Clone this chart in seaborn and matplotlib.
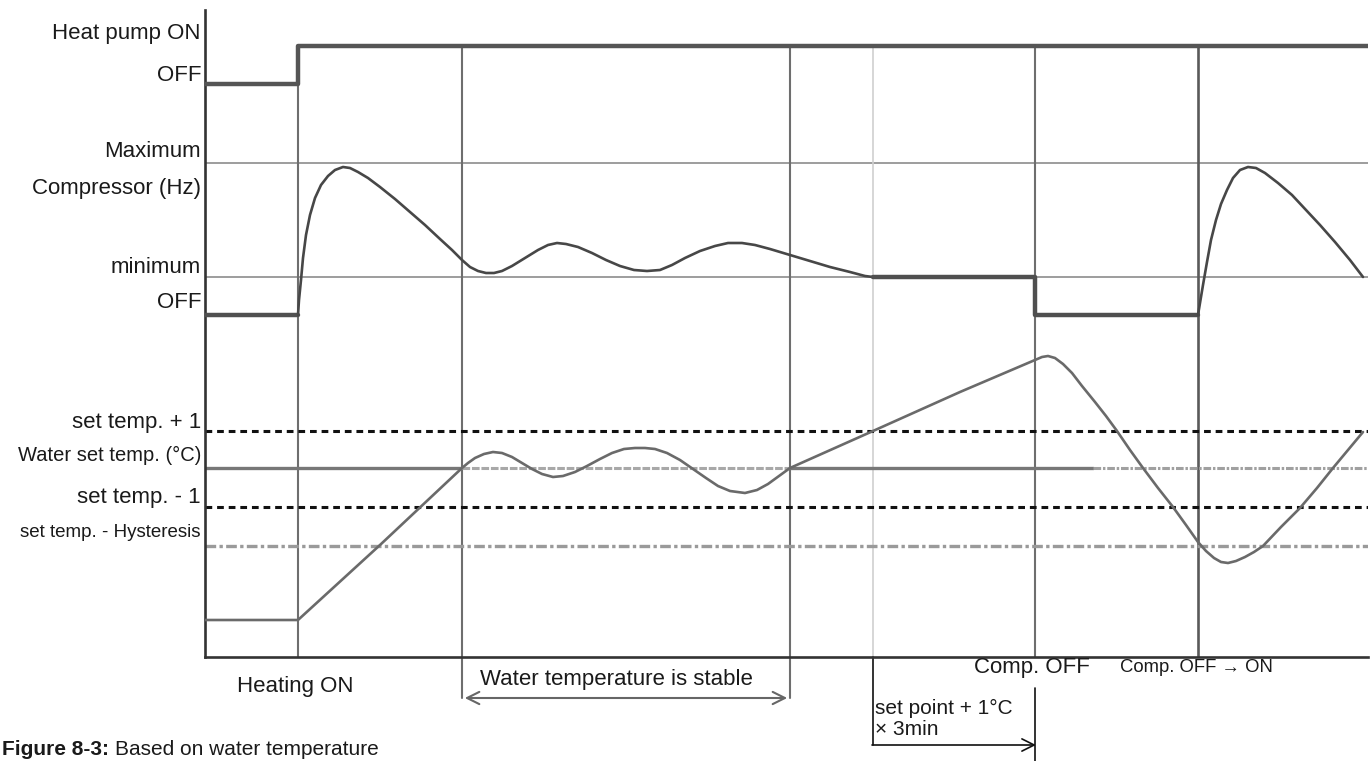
import matplotlib.pyplot as plt
import numpy as np
import pandas as pd
import seaborn as sns

# all values (time along x, signal level along y)
heat_t = [205, 298, 298, 1368]
heat_v = [84, 84, 46, 46]

comp_off_t = [205, 298]
comp_off_v = [315, 315]

comp_t = [298, 299, 301, 303, 306, 310, 315, 321, 328, 335, 343, 350, 358, 368,
          380, 395, 410, 425, 440, 452, 462, 470, 478, 486, 494, 502, 512, 525,
          538, 548, 557, 566, 578, 592, 606, 620, 634, 647, 660, 672, 685, 700,
          715, 728, 742, 755, 770, 790, 810, 830, 850, 865, 873]
comp_v = [315, 300, 280, 258, 235, 215, 198, 185, 176, 170, 167, 168, 172, 178,
          187, 199, 212, 225, 239, 250, 260, 267, 271, 273, 273, 271, 266, 258,
          250, 245, 243, 244, 247, 253, 260, 266, 270, 271, 270, 265, 258, 251,
          246, 243, 243, 245, 249, 255, 261, 267, 272, 276, 277]

comp_step_t = [873, 1035, 1035, 1198]
comp_step_v = [277, 277, 315, 315]

comp2_t = [1198, 1200, 1203, 1207, 1211, 1216, 1221, 1227, 1233, 1240, 1248,
           1256, 1265, 1278, 1292, 1306, 1320, 1335, 1350, 1363]
comp2_v = [315, 303, 285, 262, 240, 220, 204, 190, 178, 170, 167,
           168, 173, 183, 195, 210, 225, 242, 260, 277]

water_t = [205, 298, 380, 462, 468, 475, 484, 493, 502, 512, 522, 532, 542, 553,
           563, 575, 587, 600, 612, 624, 635, 645, 655, 667, 680, 693, 706, 718,
           730, 745, 757, 768, 779, 790, 873, 960, 1035, 1042, 1048, 1055, 1063,
           1072, 1082, 1095, 1106, 1117, 1130, 1143, 1158, 1173, 1186, 1198, 1206,
           1214, 1221, 1228, 1236, 1245, 1254, 1263, 1281, 1300, 1317, 1333, 1348,
           1363]
water_v = [620, 620, 545, 468, 463, 458, 454, 452, 453, 457, 463, 469, 474, 477,
           476, 472, 466, 459, 453, 449, 448, 448, 449, 453, 460, 469, 478, 486,
           491, 493, 490, 484, 476, 468, 431, 392, 360, 357, 356, 358, 364,
           373, 386, 402, 416, 431, 450, 468, 488, 507, 525, 542, 551,
           558, 562, 563, 561, 557, 552, 546, 527, 508, 488, 468, 450,
           432]

level_max = 163
level_min = 277
set_plus = 431
set_temp = 468
set_minus = 507
hyst = 546

left_labels = ["Heat pump ON", "OFF", "Maximum", "Compressor (Hz)", "minimum", "OFF",
               "set temp. + 1", "Water set temp. (°C)", "set temp. - 1",
               "set temp. - Hysteresis"]
left_label_y = [33, 75, 151, 188, 267, 302, 422, 455, 497, 532]
left_label_size = [16, 16, 16, 16, 16, 16, 16, 14.5, 16, 13.5]

sns.set_theme(style="white")
plt.rcParams['font.family'] = ['Liberation Sans', 'DejaVu Sans']

fig = plt.figure(figsize=(13.72, 7.61), dpi=100)
ax = fig.add_axes([205 / 1372, 104 / 761, 1163 / 1372, 647 / 761])
ax.set_xlim(205, 1368)
ax.set_ylim(657, 10)
ax.set_xticks([])
ax.set_yticks([])
for s in ["top", "right"]:
    ax.spines[s].set_visible(False)
for s in ["left", "bottom"]:
    ax.spines[s].set_color("#333333")
    ax.spines[s].set_linewidth(1.9)

# thin reference lines
for lv in [level_max, level_min]:
    ax.plot([205, 1368], [lv, lv], color="#8c8c8c", lw=1.2, zorder=1)

# event verticals
ax.plot([298, 298], [84, 657], color="#6e6e6e", lw=1.5, zorder=1)
ax.plot([462, 462], [46, 698], color="#6e6e6e", lw=1.5, zorder=1, clip_on=False)
ax.plot([790, 790], [46, 698], color="#6e6e6e", lw=1.5, zorder=1, clip_on=False)
ax.plot([873, 873], [46, 657], color="#d0d0d0", lw=1.2, zorder=1)
ax.plot([1035, 1035], [46, 657], color="#6e6e6e", lw=1.5, zorder=1)
ax.plot([1035, 1035], [688, 761], color="#111111", lw=1.2, zorder=1, clip_on=False)
ax.plot([1198, 1198], [46, 657], color="#5a5a5a", lw=1.9, zorder=1)

# temperature levels
ax.plot([205, 1368], [set_plus, set_plus], color="#111111", lw=2.2,
        dashes=(2.2, 1.6), zorder=2)
ax.plot([205, 1368], [set_minus, set_minus], color="#111111", lw=2.2,
        dashes=(2.2, 1.6), zorder=2)
ax.plot([205, 1368], [hyst, hyst], color="#9a9a9a", lw=2.4,
        dashes=(3.2, 1.0, 1.0, 1.0), zorder=2)
ax.plot([205, 462], [set_temp, set_temp], color="#777777", lw=2.4, zorder=2)
ax.plot([462, 790], [set_temp, set_temp], color="#a8a8a8", lw=2.2,
        dashes=(2.5, 0.6), zorder=2)
ax.plot([790, 1093], [set_temp, set_temp], color="#777777", lw=2.4, zorder=2)
ax.plot([1093, 1368], [set_temp, set_temp], color="#a0a0a0", lw=2.2,
        dashes=(2.5, 0.6, 0.8, 0.6), zorder=2)

# signals
sns.lineplot(x=heat_t, y=heat_v, ax=ax, color="#555555", lw=3.2,
             sort=False, estimator=None, zorder=4)
sns.lineplot(x=comp_off_t, y=comp_off_v, ax=ax, color="#505050", lw=3.2,
             sort=False, estimator=None, zorder=4)
sns.lineplot(x=comp_t, y=comp_v, ax=ax, color="#474747", lw=1.9,
             sort=False, estimator=None, zorder=4)
sns.lineplot(x=comp_step_t, y=comp_step_v, ax=ax, color="#4f4f4f", lw=3.2,
             sort=False, estimator=None, zorder=4)
sns.lineplot(x=comp2_t, y=comp2_v, ax=ax, color="#474747", lw=1.9,
             sort=False, estimator=None, zorder=4)
sns.lineplot(x=water_t, y=water_v, ax=ax, color="#6a6a6a", lw=1.9,
             sort=False, estimator=None, zorder=4)
for ln in ax.lines[-6:]:
    ln.set_solid_joinstyle("round")

# left labels
for txt, yy, fs in zip(left_labels, left_label_y, left_label_size):
    ax.text(201, yy, txt, ha="right", va="center", fontsize=fs,
            color="#1a1a1a", clip_on=False)

# bottom annotations
ax.text(295, 686, "Heating ON", ha="center", va="center", fontsize=16,
        color="#1a1a1a", clip_on=False)
ax.annotate("", xy=(462, 698), xytext=(790, 698),
            arrowprops=dict(arrowstyle="<->", color="#666666", lw=1.5,
                            mutation_scale=22), annotation_clip=False)
ax.text(480, 679, "Water temperature is stable", ha="left", va="center",
        fontsize=16, color="#1a1a1a", clip_on=False)
ax.text(1032, 667, "Comp. OFF", ha="center", va="center", fontsize=16,
        color="#1a1a1a", clip_on=False)
ax.text(1120, 667, "Comp. OFF → ON", ha="left", va="center", fontsize=13.3,
        color="#1a1a1a", clip_on=False)
ax.plot([873, 873], [657, 745], color="#111111", lw=1.2, clip_on=False)
ax.annotate("", xy=(1036, 745), xytext=(872, 745),
            arrowprops=dict(arrowstyle="->", color="#111111", lw=1.2,
                            mutation_scale=22, shrinkA=0, shrinkB=0),
            annotation_clip=False)
ax.text(875, 708, "set point + 1°C", ha="left", va="center", fontsize=15,
        color="#1a1a1a", clip_on=False)
ax.text(875, 729, "× 3min", ha="left", va="center", fontsize=15,
        color="#1a1a1a", clip_on=False)

# caption at the bottom-left corner
cap1 = fig.text(2 / 1372, 6 / 761, "Figure 8-3:", fontsize=15,
                fontweight="bold", color="#1a1a1a", va="baseline")
fig.canvas.draw()
bb = cap1.get_window_extent()
fig.text((bb.x1 + 6) / 1372, 6 / 761, "Based on water temperature",
         fontsize=15, color="#1a1a1a", va="baseline")

fig.savefig("out.png", dpi=100)
